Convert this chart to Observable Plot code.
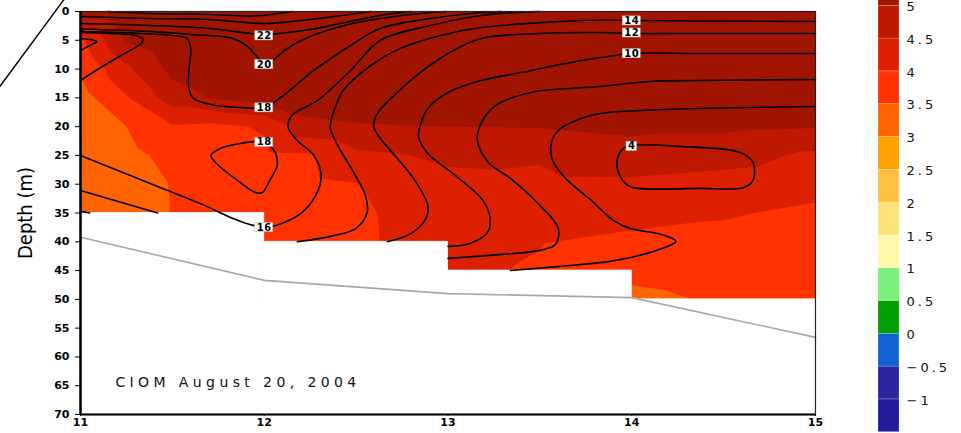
<!DOCTYPE html>
<html><head><meta charset="utf-8">
<script src="https://cdn.jsdelivr.net/npm/d3@7"></script>
<script src="https://cdn.jsdelivr.net/npm/@observablehq/plot@0.6"></script>
<style>
body{margin:0;background:#fff}
#wrap{position:relative;width:961px;height:433px;overflow:hidden;background:#fff}
#wrap svg{position:absolute;left:0;top:0}
</style>
</head><body><div id="wrap"></div>
<script>
// ---- colour levels (colour bar) ----
const levels = [-1,-0.5,0,0.5,1,1.5,2,2.5,3,3.5,4,4.5,5];
const colors = ["#221e9c","#2a26a2","#0f64d2","#00a000","#7cf07c","#fff8a8","#ffe27a","#fdc040","#ffa000","#ff6400","#ff3200","#dc2000","#be1800","#a01400"];
const cbLow = [-1.5,-1,-0.5,0,0.5,1,1.5,2,2.5,3,3.5,4,4.5,5];
const cbLabels = ["\u22121","\u22120.5","0","0.5","1","1.5","2","2.5","3","3.5","4","4.5","5"];

// ---- filled field, one column of values per station x, at depths 0..50 ----
const xs = [11, 11.25, 11.5, 11.75, 12, 12.25, 12.5, 12.75, 13, 13.5, 14, 14.5, 15];
const depths = [0,5,10,15,20,25,30,35,40,45,50];
const col11   = [5.3, 3.9, 3.55, 3.3, 3.2, 3.15, 3.1, 3.1, 3.1, 3.1, 3.1];
const col1125 = [5.5, 5.05, 4.4, 3.95, 3.5, 3.35, 3.3, 3.3, 3.3, 3.3, 3.3];
const col115  = [5.6, 5.4, 5.15, 4.75, 3.95, 3.65, 3.52, 3.51, 3.51, 3.51, 3.51];
const col1175 = [5.7, 5.6, 5.4, 5.08, 3.9, 3.75, 3.7, 3.7, 3.7, 3.7, 3.7];
const col12   = [5.7, 5.7, 5.5, 5.2, 4.05, 3.9, 3.85, 3.85, 3.85, 3.85, 3.85];
const col1225 = [5.8, 5.8, 5.6, 5.3, 4.85, 3.95, 3.9, 3.9, 3.9, 3.9, 3.9];
const col125  = [5.8, 5.8, 5.7, 5.35, 4.95, 4.4, 3.98, 3.9, 3.9, 3.9, 3.9];
const col1275 = [5.8, 5.8, 5.7, 5.4, 4.98, 4.48, 4.2, 4.12, 4.1, 4.1, 4.1];
const col13   = [5.8, 5.8, 5.7, 5.4, 5.0, 4.6, 4.35, 4.25, 4.15, 4.1, 4.0];
const col135  = [5.8, 5.8, 5.7, 5.45, 5.02, 4.55, 4.4, 4.25, 4.02, 3.95, 3.85];
const col14   = [5.8, 5.8, 5.7, 5.5, 5.1, 4.8, 4.4, 4.15, 3.9, 3.6, 3.4];
const col145  = [5.8, 5.8, 5.7, 5.5, 5.1, 4.7, 4.3, 4.05, 3.85, 3.7, 3.55];
const col15   = [5.8, 5.8, 5.7, 5.5, 5.03, 4.4, 4.17, 3.9, 3.8, 3.7, 3.6];
const fieldCols = [col11,col1125,col115,col1175,col12,col1225,col125,col1275,col13,col135,col14,col145,col15];
const fillThresholds = [3, 3.5, 4, 4.5, 5];

// ---- bottom (bathymetry) ----
const stepX1 = [11, 12, 13, 14];
const stepX2 = [12, 13, 14, 15];
const stepDepth = [35, 40, 45, 50];
const bathyX = [11, 12, 13, 14, 15];
const bathyDepth = [39.2, 46.7, 49.0, 49.7, 56.6];

// ---- contour lines, [x, depth] ----
const lineT1 = [[11.15,0],[11.38,0.35],[11.70,0.52],[11.93,0.78],[12.04,0.52],[12.15,0]];
const lineT2 = [[11,0.87],[11.38,1.22],[11.70,1.39],[12.0,2.08],[12.20,1.56],[12.38,0.87],[12.58,0]];
const line22 = [[11,2.08],[11.38,2.43],[11.70,2.95],[11.93,3.82],[12.0,3.99],[12.08,3.82],[12.25,3.13],[12.44,1.91],[12.66,0.52],[12.80,0]];
const line20 = [[11,3.04],[11.38,3.47],[11.60,3.99],[11.83,4.69],[11.91,6.08],[11.96,7.81],[12.0,9.03],[12.045,8.51],[12.11,6.77],[12.20,5.03],[12.415,2.6],[12.63,1.22],[12.905,0.17],[12.99,0]];
const line18 = [[11,3.47],[11.33,3.82],[11.50,4.17],[11.58,4.69],[11.60,6.42],[11.59,10.24],[11.59,13.37],[11.615,15.1],[11.71,16.15],[11.87,16.67],[12.0,16.67],[12.09,14.93],[12.27,10.24],[12.47,5.9],[12.63,2.95],[12.905,1.22],[13.18,0.17],[13.29,0]];
const line16 = [[11,25.0],[11.42,30.38],[11.65,33.33],[11.83,35.94],[11.94,37.15],[12.0,37.5],[12.08,36.98],[12.20,35.07],[12.28,31.94],[12.31,28.47],[12.27,25.0],[12.18,22.4],[12.13,20.14],[12.15,18.06],[12.29,15.45],[12.47,10.24],[12.63,5.03],[12.905,2.43],[13.18,0.69],[13.50,0]];
const line14L = [[11,31.08],[11.42,35]];
const line12L = [[11,34.72],[11.05,35]];
const line14 = [[12.18,40],[12.36,39.06],[12.50,37.67],[12.56,34.9],[12.55,31.94],[12.48,27.6],[12.40,23.26],[12.36,20.14],[12.38,17.19],[12.43,13.72],[12.58,9.38],[12.74,6.42],[12.96,4.17],[13.18,2.78],[13.61,1.74],[13.83,1.48],[14.0,1.56],[14.37,1.65],[15,1.74]];
const line12 = [[12.67,40],[12.80,38.54],[12.88,35.94],[12.89,33.68],[12.82,29.34],[12.71,25.0],[12.62,21.53],[12.595,19.79],[12.62,17.53],[12.725,14.06],[12.85,10.59],[13.01,7.12],[13.18,4.69],[13.50,3.82],[13.83,3.65],[14.0,3.82],[14.37,3.82],[15,3.82]];
const line10 = [[13.0,40.8],[13.12,40.28],[13.215,38.37],[13.23,36.28],[13.19,32.81],[13.04,28.47],[12.89,24.65],[12.84,21.88],[12.85,19.62],[12.89,16.84],[13.0,14.06],[13.18,11.98],[13.40,10.59],[13.61,9.2],[13.83,7.99],[14.0,7.29],[14.37,7.29],[15,7.29]];
const line8 = [[13.0,42.88],[13.29,42.19],[13.50,41.49],[13.585,40.45],[13.60,37.67],[13.50,33.68],[13.34,28.99],[13.22,26.22],[13.16,22.4],[13.18,19.44],[13.26,16.32],[13.45,14.06],[13.83,13.02],[14.10,12.15],[14.37,11.98],[15,11.81]];
const line6 = [[13.34,45.0],[13.61,44.27],[13.88,43.4],[14.10,41.84],[14.24,39.93],[14.16,38.72],[13.99,37.67],[13.90,36.28],[13.78,32.81],[13.64,28.99],[13.57,25.87],[13.56,23.26],[13.59,21.0],[13.67,19.27],[13.83,17.71],[14.05,17.19],[14.37,16.84],[15,16.49]];
const tongueBig = [[11,3.65],[11.16,3.82],[11.30,4.17],[11.34,4.86],[11.33,5.56],[11.22,7.64],[11.11,9.72],[11,11.98]];
const tongueSmall = [[11,4.69],[11.05,4.86],[11.09,5.21],[11.05,5.9],[11,6.77]];
const loop18 = [[12.0,22.57],[11.87,22.92],[11.76,23.78],[11.71,25.0],[11.74,26.39],[11.84,28.99],[11.95,31.42],[11.99,31.42],[12.03,29.34],[12.07,26.74],[12.06,24.48],[12.02,22.92]];
const loop4 = [[13.99,23.26],[14.27,23.44],[14.59,24.48],[14.66,26.22],[14.66,29.34],[14.61,30.56],[14.37,30.73],[13.99,30.38],[13.94,28.82],[13.92,25.87],[13.955,23.78]];

// ---- contour labels ----
const labelText = ["22","20","18","18","16","14","12","10","4"];
const labelX = [12, 12, 12, 12, 12, 14, 14, 14, 14];
const labelDepth = [4.2, 9.2, 16.7, 22.7, 37.5, 1.6, 3.7, 7.3, 23.4];

// ---- other text ----
const noteText = ["CIOM August 20, 2004"];
const noteX = [11.19];
const noteDepth = [64.4];
const yTicks = d3.range(0, 71, 5);
const xTicks = [11, 12, 13, 14, 15];
const pointerX = [10.55, 10.92];
const pointerDepth = [13.5, -2.5];

// ---- build tables ----
const field = xs.flatMap((x, i) => depths.map((d, j) => ({x, depth: d, v: fieldCols[i][j]})));
const openLines = {lineT1, lineT2, line22, line20, line18, line16, line14L, line12L, line14, line12, line10, line8, line6, tongueBig, tongueSmall};
const lineRows = Object.entries(openLines).flatMap(([id, pts]) => pts.map(([x, d]) => ({id, x, depth: d})));
const loopRows = [["loop18", loop18], ["loop4", loop4]];

const lineStyle = {stroke: "black", strokeWidth: 1.6};

const main = Plot.plot({
  width: 961, height: 433,
  marginLeft: 80, marginRight: 146, marginTop: 11, marginBottom: 19,
  x: {domain: [11, 15]},
  y: {domain: [0, 70], reverse: true},
  color: {type: "threshold", domain: levels, range: colors},
  style: {background: "white", fontFamily: "DejaVu Sans, sans-serif", fontSize: "11px", fontWeight: "bold", color: "black"},
  marks: [
    Plot.contour(field, {x: "x", y: "depth", fill: "v", thresholds: fillThresholds, interpolate: "barycentric",
      x1: 11, x2: 15, y1: 0, y2: 50, pixelSize: 1, stroke: "none"}),
    Plot.rect(stepDepth, {x1: stepX1, x2: stepX2, y1: stepDepth, y2: 70, fill: "white", stroke: "white", strokeWidth: 0.8}),
    Plot.line(bathyDepth, {x: bathyX, y: bathyDepth, stroke: "#a8a8a8", strokeWidth: 1.6}),
    Plot.line(lineRows, {x: "x", y: "depth", z: "id", curve: "catmull-rom", ...lineStyle}),
    ...loopRows.map(([id, pts]) => Plot.line(pts, {x: d => d[0], y: d => d[1], curve: "catmull-rom-closed", ...lineStyle})),
    Plot.text(labelText, {x: labelX, y: labelDepth, text: d => d, fontSize: 10, fontWeight: "bold", fill: "black", ariaDescription: "contour-label"}),
    Plot.text(noteText, {x: noteX, y: noteDepth, text: d => d, textAnchor: "start", fontSize: 14, fontWeight: "normal", fill: "#111", ariaDescription: "note"}),
    Plot.text(["Depth (m)"], {frameAnchor: "left", dx: -55, rotate: -90, textAnchor: "middle", text: d => d, fontSize: 20, fontWeight: "normal",
      fontFamily: "DejaVu Sans Condensed, Liberation Sans Narrow, sans-serif"}),
    Plot.line(pointerX, {x: pointerX, y: pointerDepth, stroke: "black", strokeWidth: 1.4}),
    Plot.frame({stroke: "#222", strokeWidth: 1.2}),
    Plot.ruleX([11], {stroke: "black", strokeWidth: 2.5}),
    Plot.ruleY([70], {stroke: "black", strokeWidth: 2}),
    Plot.axisY({ticks: yTicks, tickSize: 5, tickPadding: 6, label: null, tickFormat: d => d}),
    Plot.axisX({ticks: xTicks, tickSize: 2, tickPadding: 2, label: null, tickFormat: d => d})
  ]
});

const bar = Plot.plot({
  width: 961, height: 433,
  marginLeft: 878, marginRight: 62, marginTop: 0, marginBottom: 0,
  x: {domain: [0, 1], axis: null},
  y: {domain: [-1.52, 5.08], axis: null},
  color: {type: "identity"},
  style: {background: "transparent", fontFamily: "DejaVu Sans, sans-serif", fontSize: "13px", color: "black"},
  marks: [
    Plot.rect(cbLow, {x1: 0, x2: 1, y1: d => d, y2: d => d + 0.5, fill: colors, stroke: "#ffffff", strokeOpacity: 0.3, strokeWidth: 0.6}),
    Plot.text(levels, {x: 1, y: d => d, text: cbLabels, dx: 7, dy: 1, textAnchor: "start", fill: "#111", ariaDescription: "bar-label"})
  ]
});

const wrap = document.getElementById("wrap");
wrap.appendChild(main);
wrap.appendChild(bar);

function textsOf(svg, tag) {
  const out = [];
  svg.querySelectorAll('[aria-description="' + tag + '"]').forEach(el => {
    if (el.tagName.toLowerCase() === "text") out.push(el);
    else el.querySelectorAll("text").forEach(t => out.push(t));
  });
  return out;
}

// letter spacing for wide-set labels
textsOf(main, "note").forEach(t => t.style.letterSpacing = "4.4px");
textsOf(bar, "bar-label").forEach(t => t.style.letterSpacing = "3px");

// white boxes behind contour labels
textsOf(main, "contour-label").forEach(t => {
  t.style.letterSpacing = "0.5px";
  const b = t.getBBox();
  const r = document.createElementNS("http://www.w3.org/2000/svg", "rect");
  r.setAttribute("x", b.x - 2);
  r.setAttribute("y", b.y + 1);
  r.setAttribute("width", b.width + 3);
  r.setAttribute("height", b.height - 2);
  r.setAttribute("fill", "white");
  r.setAttribute("stroke", "#bbb");
  r.setAttribute("stroke-width", "0.6");
  if (t.getAttribute("transform")) r.setAttribute("transform", t.getAttribute("transform"));
  t.parentNode.insertBefore(r, t);
});
</script></body></html>
